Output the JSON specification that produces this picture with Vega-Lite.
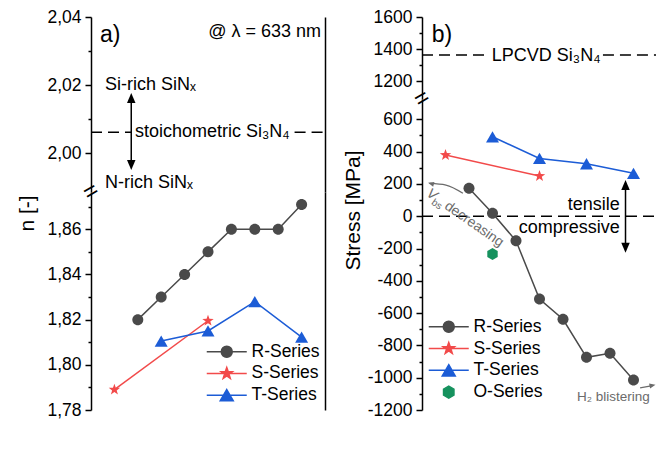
{
  "$schema": "https://vega.github.io/schema/vega-lite/v6.json",
  "background": "white",
  "padding": {"left": 16, "top": 8, "right": 0, "bottom": 0},
  "config": {
    "view": {"stroke": null},
    "font": "Liberation Sans",
    "axis": {"domainColor": "black", "domainWidth": 1.5, "tickColor": "black", "tickWidth": 1.5, "labelColor": "black", "labelFont": "Liberation Sans", "labelFontSize": 17.5, "titleFont": "Liberation Sans", "titleFontSize": 21, "titleFontWeight": "normal", "titleColor": "black", "grid": false, "labelFlush": false, "labelOverlap": false, "labelPadding": 4},
    "legend": {"labelFont": "Liberation Sans", "labelFontSize": 17.5, "labelColor": "black"}
  },
  "datasets": {
    "n_series": [
      {"power": 30, "n": 1.82, "series": "R-Series"},
      {"power": 40, "n": 1.83, "series": "R-Series"},
      {"power": 50, "n": 1.84, "series": "R-Series"},
      {"power": 60, "n": 1.85, "series": "R-Series"},
      {"power": 70, "n": 1.86, "series": "R-Series"},
      {"power": 80, "n": 1.86, "series": "R-Series"},
      {"power": 90, "n": 1.86, "series": "R-Series"},
      {"power": 100, "n": 1.871, "series": "R-Series"},
      {"power": 20, "n": 1.789, "series": "S-Series"},
      {"power": 60, "n": 1.8195, "series": "S-Series"},
      {"power": 40, "n": 1.8105, "series": "T-Series"},
      {"power": 60, "n": 1.815, "series": "T-Series"},
      {"power": 80, "n": 1.828, "series": "T-Series"},
      {"power": 100, "n": 1.8123, "series": "T-Series"}
    ],
    "stress_series": [
      {"power": 30, "stress": 173, "series": "R-Series"},
      {"power": 40, "stress": 18, "series": "R-Series"},
      {"power": 50, "stress": -152, "series": "R-Series"},
      {"power": 60, "stress": -513, "series": "R-Series"},
      {"power": 70, "stress": -638, "series": "R-Series"},
      {"power": 80, "stress": -874, "series": "R-Series"},
      {"power": 90, "stress": -849, "series": "R-Series"},
      {"power": 100, "stress": -1014, "series": "R-Series"},
      {"power": 20, "stress": 379, "series": "S-Series"},
      {"power": 60, "stress": 249, "series": "S-Series"},
      {"power": 40, "stress": 492, "series": "T-Series"},
      {"power": 60, "stress": 358, "series": "T-Series"},
      {"power": 80, "stress": 325, "series": "T-Series"},
      {"power": 100, "stress": 266, "series": "T-Series"},
      {"power": 40, "stress": -234, "series": "O-Series"}
    ],
    "a_dash": [{"x": 10, "x2": 27.2, "y": 2.0061}, {"x": 97, "x2": 110, "y": 2.0061}],
    "a_arrow": [{"x": 27.2, "y": 1.9965, "y2": 2.0162}],
    "a_head_up": [{"x": 27.2, "y": 2.0162}],
    "a_head_down": [{"x": 27.2, "y": 1.99647}],
    "a_text": [
      {"x": 16, "y": 2.0201, "label": "Si-rich SiNₓ"},
      {"x": 28.8, "y": 2.0062, "label": "stoichometric Si₃N₄"},
      {"x": 16, "y": 1.9913, "label": "N-rich SiNₓ"}
    ],
    "a_tag": [{"x": 13.8, "y": 2.0347, "label": "a)"}],
    "a_lambda": [{"x": 108.3, "y": 2.0356, "label": "@ λ = 633 nm"}],
    "a_break": [{"x": 10, "y": 1.8765, "label": "="}],
    "b_dash": [{"x": 10, "x2": 38.1, "y": 1362}, {"x": 87, "x2": 110, "y": 1362}],
    "b_tag": [{"x": 14.1, "y": 1487, "label": "b)"}],
    "b_lpcvd": [{"x": 39.7, "y": 1359, "label": "LPCVD Si₃N₄"}],
    "b_zero": [{"x": 10, "x2": 110, "y": 0}],
    "b_arrow": [{"x": 96.6, "y": -195, "y2": 193}],
    "b_head_up": [{"x": 96.6, "y": 193}],
    "b_head_down": [{"x": 96.6, "y": -195}],
    "b_text": [{"x": 94.2, "y": 69, "label": "tensile"}, {"x": 94.2, "y": -73, "label": "compressive"}],
    "b_curve": [{"x": 13.2, "y": 203}, {"x": 20.2, "y": 193}, {"x": 27.4, "y": 142}],
    "b_curve_head": [{"x": 13.8, "y": 202}],
    "b_h2_arrow": [{"x": 102.8, "y": -1063, "x2": 107.5, "y2": -1051}],
    "b_h2_head": [{"x": 108.1, "y": -1048}],
    "b_v": [{"x": 12.55, "y": 150, "label": "V"}],
    "b_bs": [{"x": 12.55, "y": 150, "label": "bs"}],
    "b_dec": [{"x": 12.55, "y": 150, "label": "decreasing"}],
    "b_h2": [{"x": 76, "y": -1120, "label": "H₂ blistering"}],
    "b_break": [{"x": 10, "y": 726, "label": "="}]
  },
  "spacing": 16,
  "resolve": {"scale": {"color": "independent"}, "legend": {"color": "independent"}},
  "hconcat": [
    {
      "spacing": 0,
      "bounds": "flush",
      "resolve": {"scale": {"color": "independent"}, "legend": {"color": "independent"}},
      "vconcat": [
        {
          "width": 234,
          "height": 175,
          "resolve": {"axis": {"y": "independent"}},
          "layer": [
            {
              "data": {"name": "a_dash"},
              "mark": {"type": "rule", "strokeDash": [11, 6], "strokeWidth": 1.5, "color": "black"},
              "encoding": {
                "x": {"field": "x", "type": "quantitative", "scale": {"domain": [10, 110], "nice": false, "zero": false}, "axis": {"orient": "top", "ticks": false, "labels": false, "title": null, "domain": true}},
                "x2": {"field": "x2"},
                "y": {"field": "y", "type": "quantitative", "scale": {"domain": [1.98853, 2.04], "nice": false, "zero": false},
                  "axis": {"orient": "left", "title": null, "values": [2.0, 2.01, 2.02, 2.03, 2.04],
                    "tickSize": {"condition": {"test": "round(datum.value*100) % 2 === 0", "value": 6}, "value": 3},
                    "labelExpr": "round(datum.value*100) % 2 === 0 ? replace(format(datum.value, '.2f'), '.', ',') : ''"}}
              }
            },
            {
              "data": {"name": "a_arrow"},
              "mark": {"type": "rule", "strokeWidth": 1.5, "color": "black"},
              "encoding": {
                "x": {"field": "x", "type": "quantitative", "axis": null},
                "y": {"field": "y", "type": "quantitative", "axis": {"orient": "right", "ticks": false, "labels": false, "title": null, "domain": true}},
                "y2": {"field": "y2"}
              }
            },
            {
              "data": {"name": "a_head_up"},
              "mark": {"type": "point", "shape": "M0,-1L0.85,1L-0.85,1Z", "size": 100, "filled": true, "color": "black", "opacity": 1},
              "encoding": {"x": {"field": "x", "type": "quantitative", "axis": null}, "y": {"field": "y", "type": "quantitative", "axis": null}}
            },
            {
              "data": {"name": "a_head_down"},
              "mark": {"type": "point", "shape": "M0,1L0.85,-1L-0.85,-1Z", "size": 100, "filled": true, "color": "black", "opacity": 1},
              "encoding": {"x": {"field": "x", "type": "quantitative", "axis": null}, "y": {"field": "y", "type": "quantitative", "axis": null}}
            },
            {
              "data": {"name": "a_text"},
              "mark": {"type": "text", "align": "left", "baseline": "middle", "fontSize": 18, "font": "Liberation Sans", "color": "black"},
              "encoding": {"x": {"field": "x", "type": "quantitative", "axis": null}, "y": {"field": "y", "type": "quantitative", "axis": null}, "text": {"field": "label", "type": "nominal"}}
            },
            {
              "data": {"name": "a_tag"},
              "mark": {"type": "text", "align": "left", "baseline": "middle", "fontSize": 23, "font": "Liberation Sans", "color": "black"},
              "encoding": {"x": {"field": "x", "type": "quantitative", "axis": null}, "y": {"field": "y", "type": "quantitative", "axis": null}, "text": {"field": "label", "type": "nominal"}}
            },
            {
              "data": {"name": "a_lambda"},
              "mark": {"type": "text", "align": "right", "baseline": "middle", "fontSize": 18, "font": "Liberation Sans", "color": "black"},
              "encoding": {"x": {"field": "x", "type": "quantitative", "axis": null}, "y": {"field": "y", "type": "quantitative", "axis": null}, "text": {"field": "label", "type": "nominal"}}
            }
          ]
        },
        {
          "width": 234,
          "height": 218,
          "resolve": {"axis": {"y": "independent"}},
          "layer": [
            {
              "data": {"name": "n_series"},
              "mark": {"type": "line", "strokeWidth": 1.5},
              "encoding": {
                "x": {"field": "power", "type": "quantitative", "scale": {"domain": [10, 110], "nice": false, "zero": false},
                  "axis": {"orient": "bottom", "title": "Plasma Power [W]", "titlePadding": 6, "values": [10, 20, 30, 40, 50, 60, 70, 80, 90, 100, 110],
                    "tickSize": {"condition": {"test": "datum.value % 20 === 0", "value": 6}, "value": 3},
                    "labelExpr": "datum.value % 20 === 0 ? '' + datum.value : ''"}},
                "y": {"field": "n", "type": "quantitative", "scale": {"domain": [1.78, 1.8765], "nice": false, "zero": false},
                  "axis": {"orient": "left", "title": "n [-]", "titleX": -54, "titleY": 21, "titleAngle": 270, "titleAlign": "center", "titleBaseline": "bottom",
                    "values": [1.78, 1.79, 1.8, 1.81, 1.82, 1.83, 1.84, 1.85, 1.86, 1.87],
                    "tickSize": {"condition": {"test": "round(datum.value*100) % 2 === 0", "value": 6}, "value": 3},
                    "labelExpr": "round(datum.value*100) % 2 === 0 ? replace(format(datum.value, '.2f'), '.', ',') : ''"}},
                "color": {"field": "series", "type": "nominal", "scale": {"domain": ["R-Series", "S-Series", "T-Series"], "range": ["#4a4a4a", "#f24a4a", "#1c5cd6"]},
                  "legend": {"title": null, "orient": "none", "legendX": 127, "legendY": 151, "padding": 0, "symbolSize": 100, "labelOffset": 16, "rowPadding": 2.7, "labelFontSize": 17.5, "labelFont": "Liberation Sans", "labelColor": "black",
                    "encode": {"symbols": {"update": {
                      "shape": {"signal": "datum.value === 'R-Series' ? 'M-4,0L4,0M-1.1,0A1.1,1.1 0 1,0 1.1,0A1.1,1.1 0 1,0 -1.1,0Z' : datum.value === 'S-Series' ? 'M-4,0L4,0M0,-1.2L0.282,-0.389L1.141,-0.371L0.456,0.149L0.706,0.971L0,0.48L-0.706,0.971L-0.456,0.149L-1.141,-0.371L-0.282,-0.389Z' : datum.value === 'T-Series' ? 'M-4,0L4,0M0,-1.126L1.3,1.126L-1.3,1.126Z' : 'M0,-1.2L1.04,-0.6L1.04,0.6L0,1.2L-1.04,0.6L-1.04,-0.6Z'"},
                      "fill": {"signal": "datum.value === 'R-Series' ? '#4a4a4a' : datum.value === 'S-Series' ? '#f24a4a' : datum.value === 'T-Series' ? '#1c5cd6' : '#16925e'"},
                      "stroke": {"signal": "datum.value === 'R-Series' ? '#4a4a4a' : datum.value === 'S-Series' ? '#f24a4a' : datum.value === 'T-Series' ? '#1c5cd6' : '#16925e'"},
                      "strokeWidth": {"value": 1.5}, "opacity": {"value": 1}, "fillOpacity": {"value": 1}, "strokeOpacity": {"value": 1}}}}}}
              }
            },
            {
              "data": {"name": "n_series"},
              "transform": [{"filter": "datum.series === 'R-Series'"}],
              "mark": {"type": "point", "shape": "M-1.1,0A1.1,1.1 0 1,0 1.1,0A1.1,1.1 0 1,0 -1.1,0Z", "filled": true, "size": 100, "opacity": 1},
              "encoding": {
                "x": {"field": "power", "type": "quantitative", "axis": null},
                "y": {"field": "n", "type": "quantitative", "axis": null},
                "color": {"field": "series", "type": "nominal", "legend": null}
              }
            },
            {
              "data": {"name": "n_series"},
              "transform": [{"filter": "datum.series === 'S-Series'"}],
              "mark": {"type": "point", "shape": "M0,-1.2L0.282,-0.389L1.141,-0.371L0.456,0.149L0.706,0.971L0,0.48L-0.706,0.971L-0.456,0.149L-1.141,-0.371L-0.282,-0.389Z", "filled": true, "size": 100, "opacity": 1},
              "encoding": {
                "x": {"field": "power", "type": "quantitative", "axis": null},
                "y": {"field": "n", "type": "quantitative", "axis": null},
                "color": {"field": "series", "type": "nominal", "legend": null}
              }
            },
            {
              "data": {"name": "n_series"},
              "transform": [{"filter": "datum.series === 'T-Series'"}],
              "mark": {"type": "point", "shape": "M0,-1.126L1.3,1.126L-1.3,1.126Z", "filled": true, "size": 100, "opacity": 1},
              "encoding": {
                "x": {"field": "power", "type": "quantitative", "axis": null},
                "y": {"field": "n", "type": "quantitative", "axis": null},
                "color": {"field": "series", "type": "nominal", "legend": null}
              }
            },
            {
              "data": {"name": "a_break"},
              "mark": {"type": "text", "align": "center", "baseline": "middle", "fontSize": 24, "angle": -30, "font": "Liberation Sans", "color": "black"},
              "encoding": {
                "x": {"field": "x", "type": "quantitative", "axis": null},
                "y": {"field": "y", "type": "quantitative", "axis": {"orient": "right", "ticks": false, "labels": false, "title": null, "domain": true}},
                "text": {"field": "label", "type": "nominal"}
              }
            }
          ]
        }
      ]
    },
    {
      "spacing": 0,
      "bounds": "flush",
      "resolve": {"scale": {"color": "independent"}, "legend": {"color": "independent"}},
      "vconcat": [
        {
          "width": 235,
          "height": 82,
          "resolve": {"axis": {"y": "independent"}},
          "layer": [
            {
              "data": {"name": "b_dash"},
              "mark": {"type": "rule", "strokeDash": [11, 6], "strokeWidth": 1.5, "color": "black"},
              "encoding": {
                "x": {"field": "x", "type": "quantitative", "scale": {"domain": [10, 110], "nice": false, "zero": false}, "axis": {"orient": "top", "ticks": false, "labels": false, "title": null, "domain": true}},
                "x2": {"field": "x2"},
                "y": {"field": "y", "type": "quantitative", "scale": {"domain": [1087.5, 1600], "nice": false, "zero": false},
                  "axis": {"orient": "left", "title": null, "values": [1200, 1300, 1400, 1500, 1600],
                    "tickSize": {"condition": {"test": "datum.value % 200 === 0", "value": 6}, "value": 3},
                    "labelExpr": "datum.value % 200 === 0 ? '' + datum.value : ''"}}
              }
            },
            {
              "data": {"name": "b_tag"},
              "mark": {"type": "text", "align": "left", "baseline": "middle", "fontSize": 23, "font": "Liberation Sans", "color": "black"},
              "encoding": {
                "x": {"field": "x", "type": "quantitative", "axis": null},
                "y": {"field": "y", "type": "quantitative", "axis": {"orient": "right", "ticks": false, "labels": false, "title": null, "domain": true}},
                "text": {"field": "label", "type": "nominal"}
              }
            },
            {
              "data": {"name": "b_lpcvd"},
              "mark": {"type": "text", "align": "left", "baseline": "middle", "fontSize": 18, "font": "Liberation Sans", "color": "black"},
              "encoding": {"x": {"field": "x", "type": "quantitative", "axis": null}, "y": {"field": "y", "type": "quantitative", "axis": null}, "text": {"field": "label", "type": "nominal"}}
            }
          ]
        },
        {
          "width": 235,
          "height": 311,
          "resolve": {"axis": {"y": "independent"}},
          "layer": [
            {
              "data": {"name": "b_zero"},
              "mark": {"type": "rule", "strokeDash": [11, 6], "strokeWidth": 1.5, "color": "black"},
              "encoding": {
                "x": {"field": "x", "type": "quantitative", "scale": {"domain": [10, 110], "nice": false, "zero": false}, "axis": null},
                "x2": {"field": "x2"},
                "y": {"field": "y", "type": "quantitative", "scale": {"domain": [-1200, 726], "nice": false, "zero": false}, "axis": {"orient": "right", "ticks": false, "labels": false, "title": null, "domain": true}}
              }
            },
            {
              "data": {"name": "stress_series"},
              "transform": [{"filter": "datum.series !== 'O-Series'"}],
              "mark": {"type": "line", "strokeWidth": 1.5},
              "encoding": {
                "x": {"field": "power", "type": "quantitative",
                  "axis": {"orient": "bottom", "title": "Plasma Power [W]", "titlePadding": 6, "values": [10, 20, 30, 40, 50, 60, 70, 80, 90, 100, 110],
                    "tickSize": {"condition": {"test": "datum.value % 20 === 0", "value": 6}, "value": 3},
                    "labelExpr": "datum.value % 20 === 0 ? '' + datum.value : ''"}},
                "y": {"field": "stress", "type": "quantitative",
                  "axis": {"orient": "left", "title": "Stress [MPa]", "titleX": -59, "titleY": 111, "titleAngle": 270, "titleAlign": "center", "titleBaseline": "bottom",
                    "values": [-1200, -1100, -1000, -900, -800, -700, -600, -500, -400, -300, -200, -100, 0, 100, 200, 300, 400, 500, 600],
                    "tickSize": {"condition": {"test": "datum.value % 200 === 0", "value": 6}, "value": 3},
                    "labelExpr": "datum.value % 200 === 0 ? '' + datum.value : ''"}},
                "color": {"field": "series", "type": "nominal", "scale": {"domain": ["R-Series", "S-Series", "T-Series", "O-Series"], "range": ["#4a4a4a", "#f24a4a", "#1c5cd6", "#16925e"]},
                  "legend": {"title": null, "orient": "none", "legendX": 18, "legendY": 219, "padding": 0, "symbolSize": 100, "labelOffset": 16, "rowPadding": 2.8, "labelFontSize": 17.5, "labelFont": "Liberation Sans", "labelColor": "black",
                    "encode": {"symbols": {"update": {
                      "shape": {"signal": "datum.value === 'R-Series' ? 'M-4,0L4,0M-1.1,0A1.1,1.1 0 1,0 1.1,0A1.1,1.1 0 1,0 -1.1,0Z' : datum.value === 'S-Series' ? 'M-4,0L4,0M0,-1.2L0.282,-0.389L1.141,-0.371L0.456,0.149L0.706,0.971L0,0.48L-0.706,0.971L-0.456,0.149L-1.141,-0.371L-0.282,-0.389Z' : datum.value === 'T-Series' ? 'M-4,0L4,0M0,-1.126L1.3,1.126L-1.3,1.126Z' : 'M0,-1.2L1.04,-0.6L1.04,0.6L0,1.2L-1.04,0.6L-1.04,-0.6Z'"},
                      "fill": {"signal": "datum.value === 'R-Series' ? '#4a4a4a' : datum.value === 'S-Series' ? '#f24a4a' : datum.value === 'T-Series' ? '#1c5cd6' : '#16925e'"},
                      "stroke": {"signal": "datum.value === 'R-Series' ? '#4a4a4a' : datum.value === 'S-Series' ? '#f24a4a' : datum.value === 'T-Series' ? '#1c5cd6' : '#16925e'"},
                      "strokeWidth": {"value": 1.5}, "opacity": {"value": 1}, "fillOpacity": {"value": 1}, "strokeOpacity": {"value": 1}}}}}}
              }
            },
            {
              "data": {"name": "stress_series"},
              "transform": [{"filter": "datum.series === 'R-Series'"}],
              "mark": {"type": "point", "shape": "M-1.1,0A1.1,1.1 0 1,0 1.1,0A1.1,1.1 0 1,0 -1.1,0Z", "filled": true, "size": 100, "opacity": 1},
              "encoding": {
                "x": {"field": "power", "type": "quantitative", "axis": null},
                "y": {"field": "stress", "type": "quantitative", "axis": null},
                "color": {"field": "series", "type": "nominal", "legend": null}
              }
            },
            {
              "data": {"name": "stress_series"},
              "transform": [{"filter": "datum.series === 'S-Series'"}],
              "mark": {"type": "point", "shape": "M0,-1.2L0.282,-0.389L1.141,-0.371L0.456,0.149L0.706,0.971L0,0.48L-0.706,0.971L-0.456,0.149L-1.141,-0.371L-0.282,-0.389Z", "filled": true, "size": 100, "opacity": 1},
              "encoding": {
                "x": {"field": "power", "type": "quantitative", "axis": null},
                "y": {"field": "stress", "type": "quantitative", "axis": null},
                "color": {"field": "series", "type": "nominal", "legend": null}
              }
            },
            {
              "data": {"name": "stress_series"},
              "transform": [{"filter": "datum.series === 'T-Series'"}],
              "mark": {"type": "point", "shape": "M0,-1.126L1.3,1.126L-1.3,1.126Z", "filled": true, "size": 100, "opacity": 1},
              "encoding": {
                "x": {"field": "power", "type": "quantitative", "axis": null},
                "y": {"field": "stress", "type": "quantitative", "axis": null},
                "color": {"field": "series", "type": "nominal", "legend": null}
              }
            },
            {
              "data": {"name": "stress_series"},
              "transform": [{"filter": "datum.series === 'O-Series'"}],
              "mark": {"type": "point", "shape": "M0,-1.2L1.04,-0.6L1.04,0.6L0,1.2L-1.04,0.6L-1.04,-0.6Z", "filled": true, "size": 100, "opacity": 1},
              "encoding": {
                "x": {"field": "power", "type": "quantitative", "axis": null},
                "y": {"field": "stress", "type": "quantitative", "axis": null},
                "color": {"field": "series", "type": "nominal", "legend": null}
              }
            },
            {
              "data": {"name": "b_arrow"},
              "mark": {"type": "rule", "strokeWidth": 1.5, "color": "black"},
              "encoding": {"x": {"field": "x", "type": "quantitative", "axis": null}, "y": {"field": "y", "type": "quantitative", "axis": null}, "y2": {"field": "y2"}}
            },
            {
              "data": {"name": "b_head_up"},
              "mark": {"type": "point", "shape": "M0,-1L0.85,1L-0.85,1Z", "size": 100, "filled": true, "color": "black", "opacity": 1},
              "encoding": {"x": {"field": "x", "type": "quantitative", "axis": null}, "y": {"field": "y", "type": "quantitative", "axis": null}}
            },
            {
              "data": {"name": "b_head_down"},
              "mark": {"type": "point", "shape": "M0,1L0.85,-1L-0.85,-1Z", "size": 100, "filled": true, "color": "black", "opacity": 1},
              "encoding": {"x": {"field": "x", "type": "quantitative", "axis": null}, "y": {"field": "y", "type": "quantitative", "axis": null}}
            },
            {
              "data": {"name": "b_text"},
              "mark": {"type": "text", "align": "right", "baseline": "middle", "fontSize": 18, "font": "Liberation Sans", "color": "black"},
              "encoding": {"x": {"field": "x", "type": "quantitative", "axis": null}, "y": {"field": "y", "type": "quantitative", "axis": null}, "text": {"field": "label", "type": "nominal"}}
            },
            {
              "data": {"name": "b_curve"},
              "mark": {"type": "line", "interpolate": "monotone", "strokeWidth": 1.3, "color": "#6b6b6b"},
              "encoding": {"x": {"field": "x", "type": "quantitative", "axis": null}, "y": {"field": "y", "type": "quantitative", "axis": null}}
            },
            {
              "data": {"name": "b_curve_head"},
              "mark": {"type": "point", "shape": "M-1,0L1,-0.85L1,0.85Z", "size": 36, "angle": 15, "filled": true, "color": "#6b6b6b", "opacity": 1},
              "encoding": {"x": {"field": "x", "type": "quantitative", "axis": null}, "y": {"field": "y", "type": "quantitative", "axis": null}}
            },
            {
              "data": {"name": "b_h2_arrow"},
              "mark": {"type": "rule", "strokeWidth": 1.3, "color": "#6b6b6b"},
              "encoding": {"x": {"field": "x", "type": "quantitative", "axis": null}, "y": {"field": "y", "type": "quantitative", "axis": null}, "x2": {"field": "x2"}, "y2": {"field": "y2"}}
            },
            {
              "data": {"name": "b_h2_head"},
              "mark": {"type": "point", "shape": "M1,0L-1,-0.85L-1,0.85Z", "size": 36, "angle": -12, "filled": true, "color": "#6b6b6b", "opacity": 1},
              "encoding": {"x": {"field": "x", "type": "quantitative", "axis": null}, "y": {"field": "y", "type": "quantitative", "axis": null}}
            },
            {
              "data": {"name": "b_v"},
              "mark": {"type": "text", "align": "left", "baseline": "middle", "fontSize": 14, "fontStyle": "italic", "angle": 35, "font": "Liberation Sans", "color": "#6b6b6b"},
              "encoding": {"x": {"field": "x", "type": "quantitative", "axis": null}, "y": {"field": "y", "type": "quantitative", "axis": null}, "text": {"field": "label", "type": "nominal"}}
            },
            {
              "data": {"name": "b_bs"},
              "mark": {"type": "text", "align": "left", "baseline": "middle", "fontSize": 10, "angle": 35, "dx": 9, "dy": 5, "font": "Liberation Sans", "color": "#6b6b6b"},
              "encoding": {"x": {"field": "x", "type": "quantitative", "axis": null}, "y": {"field": "y", "type": "quantitative", "axis": null}, "text": {"field": "label", "type": "nominal"}}
            },
            {
              "data": {"name": "b_dec"},
              "mark": {"type": "text", "align": "left", "baseline": "middle", "fontSize": 14, "angle": 35, "dx": 22, "font": "Liberation Sans", "color": "#6b6b6b"},
              "encoding": {"x": {"field": "x", "type": "quantitative", "axis": null}, "y": {"field": "y", "type": "quantitative", "axis": null}, "text": {"field": "label", "type": "nominal"}}
            },
            {
              "data": {"name": "b_h2"},
              "mark": {"type": "text", "align": "left", "baseline": "middle", "fontSize": 13.5, "font": "Liberation Sans", "color": "#6b6b6b"},
              "encoding": {"x": {"field": "x", "type": "quantitative", "axis": null}, "y": {"field": "y", "type": "quantitative", "axis": null}, "text": {"field": "label", "type": "nominal"}}
            },
            {
              "data": {"name": "b_break"},
              "mark": {"type": "text", "align": "center", "baseline": "middle", "fontSize": 24, "angle": -30, "font": "Liberation Sans", "color": "black"},
              "encoding": {"x": {"field": "x", "type": "quantitative", "axis": null}, "y": {"field": "y", "type": "quantitative", "axis": null}, "text": {"field": "label", "type": "nominal"}}
            }
          ]
        }
      ]
    }
  ]
}
